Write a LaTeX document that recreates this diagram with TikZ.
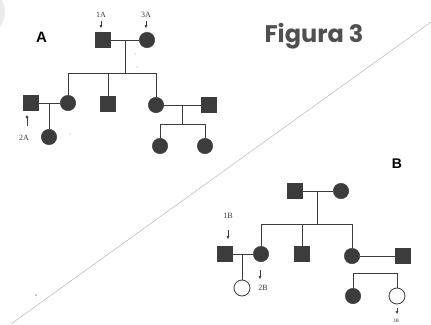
\documentclass[tikz,border=0pt]{standalone}
\usepackage{fontspec}
\setmainfont{Liberation Serif}
\newfontfamily\headfont{Poppins}
\newfontfamily\letterfont{Liberation Sans}
\usetikzlibrary{arrows.meta}
\definecolor{ink}{HTML}{3C3C3C}
\definecolor{headgray}{HTML}{505050}
\tikzset{
  rel/.style={draw=ink, line width=1pt},
  male/.style={rectangle, draw=ink, fill=ink, minimum size=15pt, inner sep=0pt},
  female/.style={circle, draw=ink, fill=ink, minimum size=15.5pt, inner sep=0pt},
  openfemale/.style={circle, draw=ink, fill=white, line width=0.8pt, minimum size=16pt, inner sep=0pt},
  tag/.style={font=\fontsize{8}{9}\selectfont, text=ink, inner sep=0pt, anchor=base},
  probarrow/.style={draw=ink, line width=0.5pt, -{Triangle[length=3pt,width=2.6pt]}},
  speck/.style={fill=gray!70, draw=none},
}
\begin{document}
\begin{tikzpicture}[x=1pt, y=-1pt]
\fill[white] (0,0) rectangle (431,324);
\useasboundingbox (0,0) rectangle (431,324);

% faint disc at the upper left edge
\fill[gray!15] (-20,12) circle (25);

% diagonal divider
\coordinate (div-a) at (431,22);
\coordinate (div-b) at (11,324);
\draw[gray!55, line width=0.5pt] (div-a) -- (div-b);

% headings
\node[anchor=base, inner sep=0pt, text=headgray, font=\headfont\bfseries\fontsize{24}{26}\selectfont] (title) at (314,42) {Figura 3};
\node[anchor=base, inner sep=0pt, font=\letterfont\bfseries\fontsize{15}{16}\selectfont] (lblA) at (41.5,42) {A};
\node[anchor=base, inner sep=0pt, font=\letterfont\bfseries\fontsize{14}{15}\selectfont] (lblB) at (397,168) {B};

% ---------------- pedigree A ----------------
\node[male] (a1) at (102.5,40) {};
\node[female] (a3) at (147,40) {};
\coordinate (a-m) at (125,40);
\coordinate (a-s) at (125,73);
\coordinate (a-sl) at (68,73);
\coordinate (a-sr) at (156,73);
\node[female] (a-c1) at (68,103) {};
\node[male] (a-c2) at (108,104) {};
\node[female] (a-c3) at (156,105) {};
\node[male] (a-h) at (31,103) {};
\coordinate (a-d1) at (49,103);
\node[female] (a-g1) at (49,137) {};
\node[male] (a-w) at (209,105) {};
\coordinate (a-d2) at (182,105);
\coordinate (a-s2) at (182,124);
\coordinate (a-s2l) at (160,124);
\coordinate (a-s2r) at (205,124);
\node[female] (a-g2) at (160,146) {};
\node[female] (a-g3) at (205,146) {};

\draw[rel] (a1) -- (a3);
\draw[rel] (a-m) -- (a-s);
\draw[rel] (a-sl) -- (a-sr);
\draw[rel] (a-sl) -- (a-c1);
\draw[rel] (a-c2 |- a-s) -- (a-c2);
\draw[rel] (a-sr) -- (a-c3);
\draw[rel] (a-h) -- (a-c1);
\draw[rel] (a-d1) -- (a-g1);
\draw[rel] (a-c3) -- (a-w);
\draw[rel] (a-d2) -- (a-s2);
\draw[rel] (a-s2l) -- (a-s2r);
\draw[rel] (a-s2l) -- (a-g2);
\draw[rel] (a-s2r) -- (a-g3);

% probands of A
\node[tag] (t1A) at (101,17) {1A};
\coordinate (p1A) at (101,21);
\coordinate (q1A) at (101,28);
\draw[probarrow] (p1A) -- (q1A);
\node[tag] (t3A) at (146,17) {3A};
\coordinate (p3A) at (146,21);
\coordinate (q3A) at (146,28);
\draw[probarrow] (p3A) -- (q3A);
\node[tag] (t2A) at (24,140) {2A};
\coordinate (p2A) at (27,126);
\coordinate (q2A) at (27,115);
\draw[probarrow] (p2A) -- (q2A);

% ---------------- pedigree B ----------------
\node[male] (b-f) at (295,191) {};
\node[female] (b-m) at (341,191) {};
\coordinate (b-d) at (317,191);
\coordinate (b-s) at (317,224);
\coordinate (b-sl) at (261,224);
\coordinate (b-sr) at (352,224);
\node[female] (b-c1) at (261,254) {};
\node[male] (b-c2) at (302,254) {};
\node[female] (b-c3) at (352,256) {};
\node[male] (b-h) at (224.5,254) {};
\coordinate (b-d1) at (242,254);
\node[openfemale] (b-g1) at (242,288) {};
\node[male] (b-w) at (403,256) {};
\coordinate (b-s2l) at (353,273);
\coordinate (b-s2r) at (397,273);
\node[female] (b-g2) at (353,296) {};
\node[openfemale] (b-g3) at (397,296) {};

\draw[rel] (b-f) -- (b-m);
\draw[rel] (b-d) -- (b-s);
\draw[rel] (b-sl) -- (b-sr);
\draw[rel] (b-sl) -- (b-c1);
\draw[rel] (b-c2 |- b-s) -- (b-c2);
\draw[rel] (b-sr) -- (b-c3);
\draw[rel] (b-h) -- (b-c1);
\draw[rel] (b-d1) -- (b-g1);
\draw[rel] (b-c3) -- (b-w);
\draw[rel] (b-s2l) -- (b-s2r);
\draw[rel] (b-s2l) -- (b-g2);
\draw[rel] (b-s2r) -- (b-g3);

% probands of B
\node[tag] (t1B) at (228,218) {1B};
\coordinate (p1B) at (228,230);
\coordinate (q1B) at (228,239);
\draw[probarrow] (p1B) -- (q1B);
\coordinate (p2B) at (260,270);
\coordinate (q2B) at (260,279);
\draw[probarrow] (p2B) -- (q2B);
\node[tag] (t2B) at (263,290) {2B};
\coordinate (p3B) at (397,308);
\coordinate (q3B) at (397,314);
\draw[probarrow] (p3B) -- (q3B);
\node[tag, font=\fontsize{5}{5}\selectfont] (t3B) at (396,322) {3B};

% stray specks
\fill[speck] (36,295) circle (1);
\fill[speck] (135,54) circle (0.6);
\fill[speck] (137,67) circle (0.6);
\fill[speck] (70,134) circle (0.6);
\end{tikzpicture}
\end{document}
